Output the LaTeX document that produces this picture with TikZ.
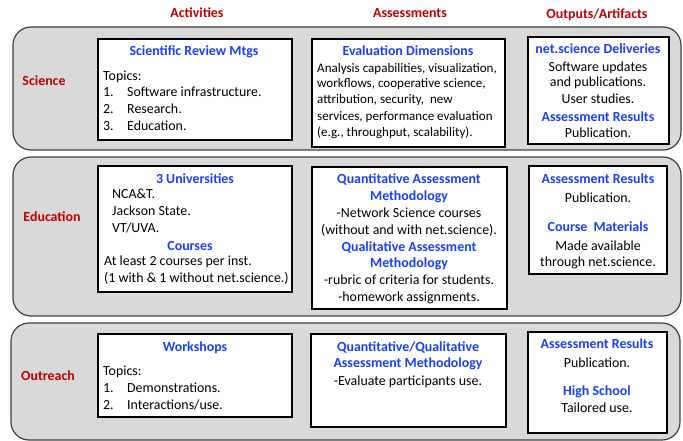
\documentclass[tikz,border=0pt]{standalone}
\usepackage{fontspec}
\setmainfont{Carlito}
\definecolor{hdrred}{RGB}{192,0,0}
\definecolor{ttlblue}{RGB}{26,64,255}
\definecolor{panelgray}{RGB}{217,217,217}
\definecolor{panelline}{RGB}{64,64,64}
\tikzset{
  panel/.style={draw=panelline, line width=1.2pt, fill=panelgray, rounded corners=18pt},
  whitebox/.style={draw=black, line width=1.8pt, fill=white},
  txt/.style={inner sep=0pt, font=\fontsize{13.9}{16.7}\selectfont, text=black},
  smtxt/.style={inner sep=0pt, font=\fontsize{13.05}{16}\selectfont, text=black},
  ttl/.style={txt, font=\fontsize{13.9}{16.7}\selectfont\bfseries, text=ttlblue},
  hdr/.style={txt, font=\fontsize{13.9}{16.7}\selectfont\bfseries, text=hdrred},
  lb/.style={anchor=base west},
  cb/.style={anchor=base}
}
\begin{document}
\begin{tikzpicture}[x=1pt,y=-1pt]
\useasboundingbox (0,0) rectangle (683,441);
% panels
\draw[panel] (13,27) rectangle (681,150);
\draw[panel] (13,157) rectangle (681,316);
\draw[panel] (11,323) rectangle (680,440);
% boxes
\draw[whitebox] (98,39) rectangle (292,140);
\draw[whitebox] (312,39) rectangle (505,147);
\draw[whitebox] (528,37) rectangle (669,144);
\draw[whitebox] (98,166) rectangle (292,292);
\draw[whitebox] (312,167) rectangle (507,309);
\draw[whitebox] (529,166) rectangle (667,274);
\draw[whitebox] (98,334) rectangle (292,417);
\draw[whitebox] (311,334) rectangle (506,427);
\draw[whitebox] (528,332) rectangle (667,433);
% headers
\node[hdr,cb] (h1) at (197,18) {Activities};
\node[hdr,cb] (h2) at (410,18) {Assessments};
\node[hdr,cb] (h3) at (597,18.5) {Outputs/Artifacts};
% row labels
\node[hdr,cb] (r1) at (44,85.5) {Science};
\node[hdr,cb] (r2) at (52,221.5) {Education};
\node[hdr,cb] (r3) at (48,380.5) {Outreach};
% Science activities
\node[ttl,cb] (s1t) at (194,55.5) {Scientific Review Mtgs};
\node[txt,lb] (s1a) at (103,80.5) {Topics:};
\node[txt,lb] (s1b) at (103,96.5) {1.};
\node[txt,lb] (s1c) at (127,96.5) {Software infrastructure.};
\node[txt,lb] (s1d) at (103,113.5) {2.};
\node[txt,lb] (s1e) at (127,113.5) {Research.};
\node[txt,lb] (s1f) at (103,130.5) {3.};
\node[txt,lb] (s1g) at (127,130.5) {Education.};
% Science assessments
\node[ttl,cb] (s2t) at (408,55.5) {Evaluation Dimensions};
\node[smtxt,lb] (s2a) at (317,72.5) {Analysis capabilities, visualization,};
\node[smtxt,lb] (s2b) at (317,88) {workflows, cooperative science,};
\node[smtxt,lb] (s2c) at (317,104) {attribution, security,\ \ new};
\node[smtxt,lb] (s2d) at (317,120.5) {services, performance evaluation};
\node[smtxt,lb] (s2e) at (317,136.5) {(e.g., throughput, scalability).};
% Science outputs
\node[ttl,cb] (s3t) at (598,53.5) {net.science Deliveries};
\node[txt,cb] (s3a) at (598,71.5) {Software updates};
\node[txt,cb] (s3b) at (598,87) {and publications.};
\node[txt,cb] (s3c) at (598,103.5) {User studies.};
\node[ttl,cb] (s3d) at (598,121.5) {Assessment Results};
\node[txt,cb] (s3e) at (598,137.5) {Publication.};
% Education activities
\node[ttl,cb] (e1t) at (195,183.5) {3 Universities};
\node[txt,lb] (e1a) at (112,198.5) {NCA\&T.};
\node[txt,lb] (e1b) at (112,215.5) {Jackson State.};
\node[txt,lb] (e1c) at (112,232.5) {VT/UVA.};
\node[ttl,cb] (e1d) at (190,250.5) {Courses};
\node[txt,lb] (e1e) at (104,265.5) {At least 2 courses per inst.};
\node[txt,lb] (e1f) at (104,282.5) {(1 with \& 1 without net.science.)};
% Education assessments
\node[ttl,cb] (e2t) at (409,183.5) {Quantitative Assessment};
\node[ttl,cb] (e2a) at (409,200.5) {Methodology};
\node[txt,cb] (e2b) at (409,217.5) {-Network Science courses};
\node[txt,cb] (e2c) at (409,234.5) {(without and with net.science).};
\node[ttl,cb] (e2d) at (409,251.5) {Qualitative Assessment};
\node[ttl,cb] (e2e) at (409,267.5) {Methodology};
\node[txt,cb] (e2f) at (409,284.5) {-rubric of criteria for students.};
\node[txt,cb] (e2g) at (409,301.5) {-homework assignments.};
% Education outputs
\node[ttl,cb] (e3t) at (598,183.5) {Assessment Results};
\node[txt,cb] (e3a) at (598,202.5) {Publication.};
\node[ttl,cb] (e3b) at (598,231.5) {Course\ \ Materials};
\node[txt,cb] (e3c) at (598,250.5) {Made available};
\node[txt,cb] (e3d) at (598,266.5) {through net.science.};
% Outreach activities
\node[ttl,cb] (o1t) at (195,351.5) {Workshops};
\node[txt,lb] (o1a) at (103,375.5) {Topics:};
\node[txt,lb] (o1b) at (103,392.5) {1.};
\node[txt,lb] (o1c) at (127,392.5) {Demonstrations.};
\node[txt,lb] (o1d) at (103,409.5) {2.};
\node[txt,lb] (o1e) at (127,409.5) {Interactions/use.};
% Outreach assessments
\node[ttl,cb] (o2t) at (408,351.5) {Quantitative/Qualitative};
\node[ttl,cb] (o2a) at (408,367.5) {Assessment Methodology};
\node[txt,cb] (o2b) at (408,385.5) {-Evaluate participants use.};
% Outreach outputs
\node[ttl,cb] (o3t) at (597,348.5) {Assessment Results};
\node[txt,cb] (o3a) at (597,367.5) {Publication.};
\node[ttl,cb] (o3b) at (597,395.5) {High School};
\node[txt,cb] (o3c) at (597,412.5) {Tailored use.};
\end{tikzpicture}
\end{document}
